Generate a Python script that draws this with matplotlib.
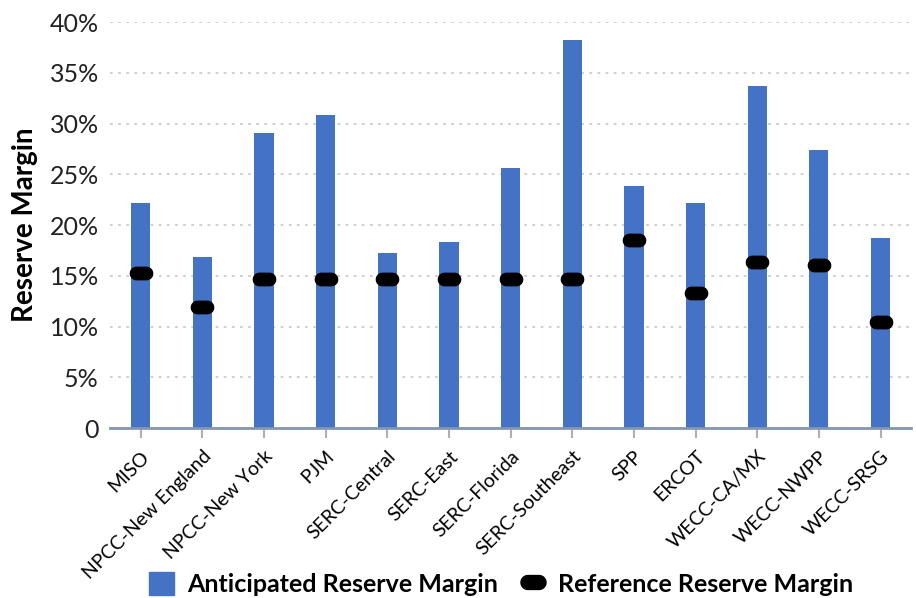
import numpy as np
import matplotlib
import matplotlib.pyplot as plt
from matplotlib.path import Path
from matplotlib.lines import Line2D
from matplotlib.patches import Patch
import matplotlib.ticker as mticker
matplotlib.use('Agg')

regions = ['MISO', 'NPCC-New England', 'NPCC-New York', 'PJM', 'SERC-Central',
           'SERC-East', 'SERC-Florida', 'SERC-Southeast', 'SPP', 'ERCOT',
           'WECC-CA/MX', 'WECC-NWPP', 'WECC-SRSG']
anticipated = [22.2, 16.9, 29.1, 30.9, 17.3, 18.3, 25.6, 38.2, 23.9, 22.2, 33.7, 27.4, 18.7]
reference = [15.3, 11.9, 14.7, 14.7, 14.7, 14.7, 14.7, 14.7, 18.5, 13.3, 16.4, 16.1, 10.5]
y_ticks = [0, 5, 10, 15, 20, 25, 30, 35, 40]

blue = '#4472C4'
plt.rcParams['font.family'] = ['Lato', 'DejaVu Sans']

# rounded "pill" marker for the reference margin
t1 = np.linspace(-np.pi / 2, np.pi / 2, 20)
t2 = np.linspace(np.pi / 2, 3 * np.pi / 2, 20)
vx = np.concatenate([0.4 + 0.5 * np.cos(t1), -0.4 + 0.5 * np.cos(t2)])
vy = np.concatenate([0.5 * np.sin(t1), 0.5 * np.sin(t2)])
verts = np.column_stack([np.append(vx, vx[0]), np.append(vy, vy[0])])
codes = [Path.MOVETO] + [Path.LINETO] * (len(verts) - 2) + [Path.CLOSEPOLY]
pill = Path(verts, codes)

fig = plt.figure(figsize=(9.16, 5.98), dpi=100)
ax = fig.add_axes([0.120, 0.284, 0.875, 0.679])

x = np.arange(len(regions))
ax.bar(x, anticipated, width=0.31, color=blue, zorder=2)
ax.plot(x, reference, linestyle='none', marker=pill, markersize=16,
        color='black', zorder=3)

ax.set_xlim(-0.5, len(regions) - 0.5)
ax.set_ylim(0, 40)
ax.set_yticks(y_ticks)
ax.yaxis.set_major_formatter(mticker.FuncFormatter(lambda v, p: '0' if v == 0 else f'{v:.0f}%'))
ax.tick_params(axis='y', length=0, labelsize=18, pad=8, colors='#222222')
ax.set_xticks(x)
ax.set_xticklabels(regions, rotation=45, ha='right', rotation_mode='anchor', fontsize=14)
ax.tick_params(axis='x', length=7, width=1.5, color='#b0b0b0', pad=7)

ax.grid(axis='y', linestyle=(0, (1.5, 3)), color='#cccccc', linewidth=1.3, zorder=0)
for s in ['top', 'right', 'left']:
    ax.spines[s].set_visible(False)
ax.spines['bottom'].set_color('#8497b0')
ax.spines['bottom'].set_linewidth(2)

ax.set_ylabel('Reserve Margin', fontsize=20, fontweight='bold', labelpad=8)

handles = [Patch(color=blue, label='Anticipated Reserve Margin'),
           Line2D([0], [0], linestyle='none', marker=pill, markersize=18, color='black',
                  label='Reference Reserve Margin')]
fig.legend(handles=handles, loc='center', bbox_to_anchor=(501 / 916, 1 - 584 / 598),
           ncol=2, frameon=False, prop={'weight': 'bold', 'size': 18},
           handlelength=1.0, handleheight=1.0, handletextpad=0.5, columnspacing=0.9)

fig.savefig('out.png', dpi=100)
